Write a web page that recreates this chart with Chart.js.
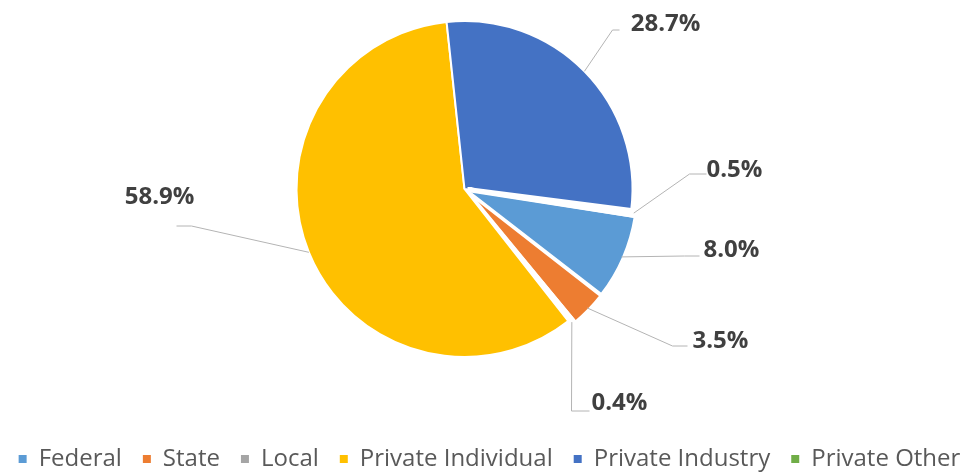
<!DOCTYPE html>
<html>
<head>
<meta charset="utf-8">
<script src="https://cdn.jsdelivr.net/npm/chart.js@4/dist/chart.umd.min.js"></script>
<style>
html,body{margin:0;padding:0;background:#ffffff;overflow:hidden}
#wrap{width:965px;height:473px;position:relative}
</style>
</head>
<body>
<div id="wrap"><canvas id="c" width="965" height="473"></canvas></div>
<script>
// ---- data ----
const categories = ['Federal', 'State', 'Local', 'Private Individual', 'Private Industry', 'Private Other'];
const sharePercent = [8.0, 3.5, 0.4, 58.9, 28.7, 0.5];

// ---- styles ----
const sliceColors = ['#5B9BD5', '#ED7D31', '#A5A5A5', '#FFC000', '#4472C4', '#70AD47'];
const sliceBorderWidths = [2, 3, 5, 2, 2, 5];
const sliceOffsets = [12, 12, 12, 0, 0, 12];

// ---- label layout (text centre relative to pie centre, leader end relative to text centre) ----
const labelPlacement = [
  {dx: 267, dy: 59,   ex: -32, ey: 8,  tail: 15},
  {dx: 256, dy: 150,  ex: -33, ey: 7,  tail: 15},
  {dx: 155, dy: 212,  ex: -30, ey: 10, tail: 18},
  {dx: -305, dy: 6,   ex: 17,  ey: 31, tail: -15},
  {dx: 201, dy: -167, ex: -46, ey: 8,  tail: 7},
  {dx: 270, dy: -21,  ex: -28, ey: 6,  tail: 17}
];

const pieFrame = {
  id: 'pieFrame',
  afterLayout(chart, args, opts) {
    const a = chart.chartArea;
    a.left += opts.dx; a.right += opts.dx;
    a.top += opts.dy; a.bottom += opts.dy;
    a.width = a.right - a.left; a.height = a.bottom - a.top;
  }
};

const leaderLabels = {
  id: 'leaderLabels',
  afterDatasetsDraw(chart, args, opts) {
    const ctx = chart.ctx;
    const meta = chart.getDatasetMeta(0);
    const values = chart.data.datasets[0].data;
    meta.data.forEach((arc, i) => {
      const {x, y, startAngle, endAngle, outerRadius} =
        arc.getProps(['x', 'y', 'startAngle', 'endAngle', 'outerRadius'], true);
      const mid = (startAngle + endAngle) / 2;
      const off = (arc.options.offset || 0) / 4;
      const px = x + Math.cos(mid) * (outerRadius + off);
      const py = y + Math.sin(mid) * (outerRadius + off);
      const p = opts.placement[i];
      const lx = x + p.dx, ly = y + p.dy;
      const endX = lx + p.ex, endY = ly + p.ey;
      const elbowX = endX - p.tail;
      ctx.save();
      ctx.strokeStyle = opts.lineColor;
      ctx.lineWidth = 1;
      ctx.beginPath();
      ctx.moveTo(px, py);
      ctx.lineTo(elbowX, endY);
      ctx.lineTo(endX, endY);
      ctx.stroke();
      ctx.font = opts.font;
      ctx.fillStyle = opts.color;
      ctx.textAlign = 'center';
      ctx.textBaseline = 'middle';
      ctx.fillText(values[i].toFixed(1) + '%', lx, ly + 2);
      ctx.restore();
    });
  }
};

new Chart(document.getElementById('c'), {
  type: 'pie',
  data: {
    labels: categories,
    datasets: [{
      data: sharePercent,
      backgroundColor: sliceColors,
      borderColor: '#ffffff',
      borderWidth: sliceBorderWidths,
      offset: sliceOffsets,
      hoverOffset: 0
    }]
  },
  options: {
    responsive: false,
    devicePixelRatio: 1,
    animation: false,
    rotation: 99,
    radius: 168,
    layout: {padding: {top: 0, left: -8, right: -22, bottom: -8}},
    plugins: {
      tooltip: {enabled: false},
      legend: {
        position: 'bottom',
        align: 'center',
        labels: {
          color: '#595959',
          font: {family: '"Open Sans", "Noto Sans", sans-serif', size: 24},
          boxWidth: 8,
          boxHeight: 8,
          padding: 21,
          generateLabels(chart) {
            const items = Chart.overrides.pie.plugins.legend.labels.generateLabels(chart);
            items.forEach(it => { it.lineWidth = 0; it.strokeStyle = 'rgba(0,0,0,0)'; });
            return items;
          }
        }
      },
      pieFrame: {dx: -18, dy: -24},
      leaderLabels: {
        placement: labelPlacement,
        lineColor: '#B4B4B4',
        color: '#404040',
        font: 'bold 24px "Open Sans", "Noto Sans", sans-serif'
      }
    }
  },
  plugins: [pieFrame, leaderLabels]
});
</script>
</body>
</html>
